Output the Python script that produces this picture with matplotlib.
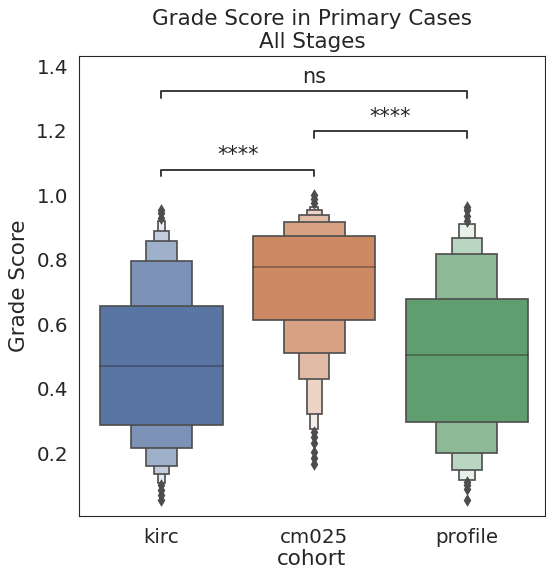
import matplotlib
matplotlib.use('Agg')
import matplotlib.pyplot as plt
import seaborn as sns
import numpy as np

# letter values (main box outward)
cohorts = ['kirc', 'cm025', 'profile']
medians = [0.472, 0.778, 0.506]
upper_vals = [
    [0.658, 0.797, 0.859, 0.889, 0.920],
    [0.874, 0.918, 0.938, 0.954, 0.965],
    [0.677, 0.818, 0.869, 0.910],
]
lower_vals = [
    [0.286, 0.216, 0.160, 0.135, 0.107],
    [0.614, 0.510, 0.429, 0.320, 0.276],
    [0.297, 0.202, 0.149, 0.118],
]
outliers = [
    [0.93, 0.945, 0.955, 0.10, 0.085, 0.07, 0.055],
    [0.975, 0.99, 1.0, 0.265, 0.25, 0.23, 0.205, 0.185, 0.165],
    [0.92, 0.935, 0.955, 0.965, 0.11, 0.10, 0.09, 0.055],
]
# significance brackets: (left, right, label)
pairs = [(0, 1, '****'), (1, 2, '****'), (0, 2, 'ns')]
pair_heights = [1.080, 1.199, 1.323]

sns.set_style('white')
plt.rcParams['font.family'] = ['DejaVu Sans']

fig = plt.figure(figsize=(5.46, 5.73), dpi=100)
ax = fig.add_axes([0.1447, 0.0995, 0.853, 0.8025])

palette = sns.color_palette('deep', 3)
gray = '#4d4d4d'
white = np.array([1.0, 1.0, 1.0])

for i, name in enumerate(cohorts):
    col = np.array(sns.desaturate(palette[i], 0.75))
    n = len(upper_vals[i])
    light = col + (white - col) * 0.85
    # narrowest (outermost) first, widest on top
    for k in reversed(range(n)):
        w = 0.8 * 0.5 ** k
        t = k / (n - 1)
        fc = col + (light - col) * t
        ax.bar(i, upper_vals[i][k] - lower_vals[i][k], bottom=lower_vals[i][k],
               width=w, color=fc, edgecolor=gray, linewidth=1.2, zorder=2)
    ax.plot([i - 0.4, i + 0.4], [medians[i], medians[i]], color='.15', alpha=.45,
            linewidth=1.2, zorder=3)
    ax.scatter(np.repeat(i, len(outliers[i])), outliers[i], marker='d', color=gray,
               s=42, zorder=3, linewidths=0)

for (a, b, lab), h in zip(pairs, pair_heights):
    tip = 0.02
    ax.plot([a, a, b, b], [h - tip, h, h, h - tip], color='#3a3a3a', linewidth=1.4)
    ax.annotate(lab, xy=((a + b) / 2, h), xytext=(0, 3), textcoords='offset points',
                ha='center', va='bottom', fontsize=15, color='#262626')

ax.set_xlim(-0.54, 2.51)
ax.set_ylim(0.005, 1.432)
ax.set_xticks(range(len(cohorts)))
ax.set_xticklabels(cohorts)
ax.set_yticks([0.2, 0.4, 0.6, 0.8, 1.0, 1.2, 1.4])
ax.set_yticklabels(['0.2', '0.4', '0.6', '0.8', '1.0', '1.2', '1.4'])
ax.tick_params(labelsize=14.3, length=0)
ax.tick_params(axis='x', pad=9)
ax.tick_params(axis='y', pad=8)
ax.set_xlabel('cohort', fontsize=15.5, labelpad=1)
ax.set_ylabel('Grade Score', fontsize=15.5, labelpad=5)
ax.set_title('Grade Score in Primary Cases\nAll Stages', fontsize=15.5, linespacing=1.15, pad=6)

fig.savefig('out.png', dpi=100)
